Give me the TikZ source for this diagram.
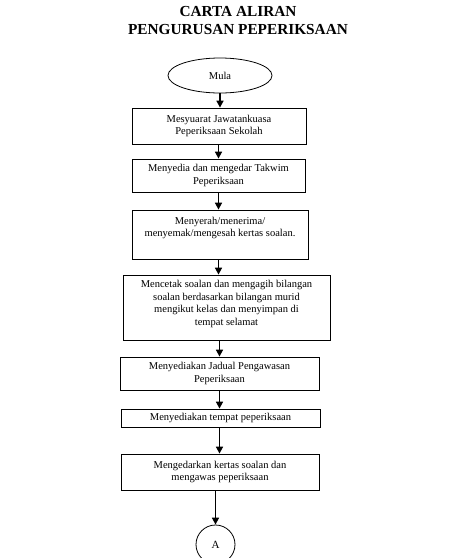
\documentclass[tikz,border=0pt]{standalone}
\usepackage{fontspec}
\setmainfont{Liberation Serif}
\usetikzlibrary{shapes.geometric,arrows.meta}
\begin{document}
\begin{tikzpicture}[x=1pt,y=-1pt,
  stepbox/.style={draw,line width=0.8pt,rectangle,inner sep=0pt,font=\fontsize{10.5}{12.5}\selectfont,align=center},
  txt/.style={inner sep=0pt,font=\fontsize{10.5}{12.5}\selectfont,align=center},
  flow/.style={line width=1.6pt,-{Triangle[width=7pt,length=7pt]}},
  titletxt/.style={inner sep=0pt,font=\fontsize{15.3}{18}\selectfont\bfseries,align=center}]
\useasboundingbox (0,0) rectangle (470,558);
\node[titletxt] (title) at (238,21) {CARTA ALIRAN\\PENGURUSAN PEPERIKSAAN};
\node[draw,line width=0.8pt,ellipse,minimum width=104,minimum height=35,inner sep=0pt,font=\fontsize{10.5}{12}\selectfont] (mula) at (220,75.5) {Mula};
\node[stepbox,minimum width=174,minimum height=36] (b1) at (219,126) {Mesyuarat Jawatankuasa\\Peperiksaan Sekolah};
\node[stepbox,minimum width=173,minimum height=33] (b2) at (218.5,175.5) {Menyedia dan mengedar Takwim\\Peperiksaan};
\node[stepbox,minimum width=176,minimum height=49] (b3) at (220,234.5) {};
\node[txt] (t3) at (220,228) {Menyerah/menerima/\\menyemak/mengesah kertas soalan.};
\node[stepbox,minimum width=207,minimum height=65] (b4) at (226.5,307.5) {};
\node[txt] (t4) at (226.5,304) {Mencetak soalan dan mengagih bilangan\\soalan berdasarkan bilangan murid\\mengikut kelas dan menyimpan di\\tempat selamat};
\node[stepbox,minimum width=199,minimum height=33] (b5) at (219.5,373.5) {Menyediakan Jadual Pengawasan\\Peperiksaan};
\node[stepbox,minimum width=199,minimum height=18] (b6) at (220.5,418) {Menyediakan tempat peperiksaan};
\node[stepbox,minimum width=198,minimum height=36] (b7) at (220,472) {Mengedarkan kertas soalan dan\\mengawas peperiksaan};
\node[draw,line width=0.8pt,circle,minimum size=39,inner sep=0pt,font=\fontsize{11}{12}\selectfont] (A) at (215.5,544.5) {A};
\draw[flow] (mula.south) -- (mula.south |- b1.north);
\draw[flow] (b2.north |- b1.south) -- (b2.north);
\draw[flow] (b2.south) -- (b2.south |- b3.north);
\draw[flow] (b2.south |- b3.south) -- (b2.south |- b4.north);
\draw[flow] (b5.north |- b4.south) -- (b5.north);
\draw[flow] (b5.south) -- (b5.south |- b6.north);
\draw[flow] (b5.south |- b6.south) -- (b5.south |- b7.north);
\draw[flow] (A.north |- b7.south) -- (A.north);
\end{tikzpicture}
\end{document}
